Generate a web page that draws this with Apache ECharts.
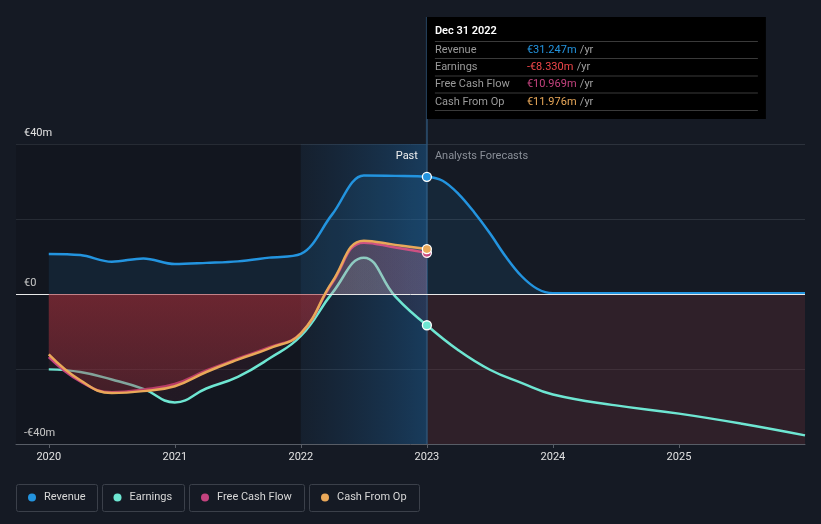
<!DOCTYPE html>
<html>
<head>
<meta charset="utf-8">
<script src="https://cdn.jsdelivr.net/npm/echarts@6/dist/echarts.min.js"></script>
<style>
html,body{margin:0;padding:0;background:#151a24;}
#c{width:821px;height:524px;}
</style>
</head>
<body>
<div id="c"></div>
<script>
// ---- data (values in € millions) ----
const pastX = [2020, 2020.25, 2020.5, 2020.75, 2021, 2021.25, 2021.5, 2021.75, 2022, 2022.25, 2022.5, 2022.75, 2023];
const revenuePast = [10.7, 10.4, 8.6, 9.5, 8.0, 8.3, 8.7, 9.7, 10.7, 21.3, 31.6, 31.5, 31.247];
const earningsPast = [-20.1, -20.8, -22.8, -25.3, -28.9, -25.2, -22.1, -17.2, -11.2, 0.3, 9.7, -0.7, -8.33];
const fcfPast = [-16.8, -23.3, -26.2, -25.5, -24.0, -20.4, -17.2, -14.2, -10.5, 3.0, 13.7, 12.4, 10.969];
const cfoPast = [-16.1, -23.0, -26.4, -25.9, -24.6, -20.8, -17.5, -14.5, -10.5, 3.3, 14.2, 13.1, 11.976];
const revForecastX = [2023, 2023.125, 2023.25, 2023.375, 2023.5, 2023.625, 2023.75, 2023.875, 2024, 2024.5, 2025, 2025.5, 2026];
const revenueForecast = [31.247, 30.2, 26.7, 21.8, 16.2, 10.0, 4.8, 1.4, 0.2, 0.2, 0.2, 0.2, 0.2];
const earnForecastX = [2023, 2023.25, 2023.5, 2023.75, 2024, 2024.5, 2025, 2025.5, 2026];
const earningsForecast = [-8.33, -15.0, -20.2, -23.7, -26.8, -29.7, -31.9, -34.6, -37.7];
const yearTicks = [2020, 2021, 2022, 2023, 2024, 2025];
const seriesNames = ['Revenue', 'Earnings', 'Free Cash Flow', 'Cash From Op'];
const tooltipDate = 'Dec 31 2022';
const splitYear = 2023;
const highlightStart = 2022;

const COLORS = { rev: '#2394df', earn: '#6ee6d2', fcf: '#c4437f', cfo: '#e9a859', earnVal: '#f0474a' };
const FONT = 'Roboto, "Noto Sans", sans-serif';

const chart = echarts.init(document.getElementById('c'));

function pairs(xs, ys) { return xs.map((x, i) => [x, ys[i]]); }
function withDot(arr, color) {
  return arr.map((p, i) => i === arr.length - 1
    ? { value: p, symbol: 'circle', symbolSize: 9, itemStyle: { color: color, borderColor: '#fff', borderWidth: 1.3 } }
    : { value: p, symbol: 'none' });
}
function signGrad(pos, negTop, negBottom) {
  return { type: 'linear', x: 0, y: 144, x2: 0, y2: 444, global: true,
    colorStops: [{ offset: 0, color: pos }, { offset: 0.5, color: pos },
                 { offset: 0.5, color: negTop }, { offset: 1, color: negBottom }] };
}

const revenueAll = pairs(pastX, revenuePast).concat(pairs(revForecastX.slice(1), revenueForecast.slice(1)));
const revData = revenueAll.map((p) => p[0] === splitYear
  ? { value: p, symbol: 'circle', symbolSize: 9, itemStyle: { color: COLORS.rev, borderColor: '#fff', borderWidth: 1.3 } }
  : { value: p, symbol: 'none' });

const lineCommon = { type: 'line', smooth: 0.45, showSymbol: true, symbol: 'none', lineStyle: { width: 2.5 } };

const option = {
  backgroundColor: '#151a24',
  animation: false,
  grid: { left: 16, right: 16, top: 144, bottom: 80 },
  xAxis: {
    type: 'value', min: 2019.74, max: 2026,
    axisLine: { onZero: false, lineStyle: { color: '#585d66' } },
    axisTick: { show: true, length: 4, customValues: yearTicks, lineStyle: { color: '#585d66' } },
    axisLabel: { customValues: yearTicks, color: '#e2e2e2', fontSize: 11, fontFamily: FONT, margin: 8, formatter: (v) => String(v) },
    splitLine: { show: false }
  },
  yAxis: {
    type: 'value', min: -40, max: 40, interval: 20,
    axisLine: { show: false }, axisTick: { show: false },
    axisLabel: { inside: true, verticalAlign: 'bottom', margin: 8, padding: [0, 0, 5, 0], color: '#e2e2e2', fontSize: 11, fontFamily: FONT,
      formatter: (v) => v === 0 ? '€0' : (Math.abs(v) === 40 ? (v < 0 ? '-' : '') + '€' + Math.abs(v) + 'm' : '') },
    splitLine: { lineStyle: { color: '#2c323c', width: 1 } }
  },
  legend: seriesNames.map((n, i) => ({
    data: [n], left: [28, 113.5, 201, 321][i], top: 492, padding: 0,
    icon: 'circle', itemWidth: 8, itemHeight: 8,
    textStyle: { color: '#d8d8d8', fontSize: 11, fontFamily: FONT, padding: [0, 0, 0, 3] },
    selectedMode: false
  })),
  series: [
    { // background bands
      type: 'line', name: 'bands', data: [], z: 1, silent: true,
      markArea: { silent: true, data: [
        [{ xAxis: 2019.74, yAxis: 40, itemStyle: { color: 'rgba(0,0,0,0.13)' } }, { xAxis: highlightStart, yAxis: -40 }],
        [{ xAxis: highlightStart, yAxis: 40, itemStyle: { color: { type: 'linear', x: 0, y: 0, x2: 1, y2: 0,
            colorStops: [{ offset: 0, color: 'rgba(25,75,120,0.12)' }, { offset: 1, color: 'rgba(28,100,160,0.45)' }] } } },
         { xAxis: splitYear, yAxis: -40 }],
        [{ xAxis: splitYear, yAxis: 0, itemStyle: { color: 'rgba(110,45,52,0.30)' } }, { xAxis: 2026, yAxis: -40 }]
      ] },
      markLine: { silent: true, symbol: 'none', label: { show: false },
        lineStyle: { color: '#e9e9e9', width: 1, type: 'solid' }, data: [{ yAxis: 0 }] }
    },
    Object.assign({}, lineCommon, { name: 'Revenue', z: 3, data: revData, smooth: 0.35,
      itemStyle: { color: COLORS.rev }, lineStyle: { width: 2.5, color: COLORS.rev },
      areaStyle: { color: 'rgba(35,148,223,0.15)' } }),
    Object.assign({}, lineCommon, { name: 'Earnings', z: 4, data: withDot(pairs(pastX, earningsPast), COLORS.earn),
      itemStyle: { color: COLORS.earn }, lineStyle: { width: 2.5, color: COLORS.earn },
      areaStyle: { color: signGrad('rgba(120,226,208,0.18)', 'rgba(110,40,60,0.25)', 'rgba(110,40,60,0.25)') } }),
    Object.assign({}, lineCommon, { name: 'Earnings', z: 4, data: pairs(earnForecastX, earningsForecast),
      itemStyle: { color: COLORS.earn }, lineStyle: { width: 2.5, color: COLORS.earn } }),
    Object.assign({}, lineCommon, { name: 'Free Cash Flow', z: 5, data: withDot(pairs(pastX, fcfPast), COLORS.fcf),
      itemStyle: { color: COLORS.fcf }, lineStyle: { width: 2.5, color: COLORS.fcf },
      areaStyle: { color: signGrad('rgba(200,70,130,0.10)', 'rgba(0,0,0,0)', 'rgba(0,0,0,0)') } }),
    Object.assign({}, lineCommon, { name: 'Cash From Op', z: 6, data: withDot(pairs(pastX, cfoPast), COLORS.cfo),
      itemStyle: { color: COLORS.cfo }, lineStyle: { width: 2.5, color: COLORS.cfo },
      areaStyle: { color: signGrad('rgba(250,135,145,0.28)', 'rgba(165,48,58,0.80)', 'rgba(165,48,58,0.30)') } })
  ]
};
chart.setOption(option);

// ---- tooltip-like panel and period labels positioned from the axis scale ----
const X0 = chart.convertToPixel({ xAxisIndex: 0 }, splitYear);
const gridTop = chart.convertToPixel({ yAxisIndex: 0 }, 40);
const gridBottom = chart.convertToPixel({ yAxisIndex: 0 }, -40);
const lastIdx = pastX.length - 1;
function fmt(v) { return (v < 0 ? '-' : '') + '€' + Math.abs(v).toFixed(3) + 'm'; }
const rows = [
  [seriesNames[0], revenuePast[lastIdx], COLORS.rev],
  [seriesNames[1], earningsPast[lastIdx], COLORS.earnVal],
  [seriesNames[2], fcfPast[lastIdx], COLORS.fcf],
  [seriesNames[3], cfoPast[lastIdx], COLORS.cfo]
];
const boxTop = 17, boxW = 339, boxH = 102;
const g = [];
g.push({ type: 'line', z: 1, shape: { x1: X0, y1: boxTop, x2: X0, y2: gridBottom }, style: { stroke: 'rgba(45,85,120,0.75)', lineWidth: 2 } });
g.push({ type: 'rect', z: 100, shape: { x: X0, y: boxTop, width: boxW, height: boxH }, style: { fill: '#000' } });
g.push({ type: 'text', z: 101, x: X0 + 8, y: boxTop + 14, style: { text: tooltipDate, fill: '#fff', font: '600 11px ' + FONT, verticalAlign: 'middle' } });
const sepY = [41.5, 58.5, 76, 93, 110.5];
sepY.forEach((y) => g.push({ type: 'line', z: 101, shape: { x1: X0 + 8, y1: y, x2: X0 + 331, y2: y }, style: { stroke: '#3a3a3a', lineWidth: 1 } }));
rows.forEach((r, i) => {
  const cy = (sepY[i] + sepY[i + 1]) / 2;
  g.push({ type: 'text', z: 101, x: X0 + 8, y: cy, style: { text: r[0], fill: '#9a9a9a', font: '11px ' + FONT, verticalAlign: 'middle' } });
  g.push({ type: 'text', z: 101, x: X0 + 100, y: cy, style: {
    text: '{v|' + fmt(r[1]) + '} {u|/yr}', verticalAlign: 'middle',
    rich: { v: { fill: r[2], font: '11px ' + FONT }, u: { fill: '#a0a0a0', font: '11px ' + FONT } } } });
});
g.push({ type: 'text', z: 50, x: X0 - 9, y: gridTop + 12, style: { text: 'Past', fill: '#f0f0f0', font: '11px ' + FONT, align: 'right', verticalAlign: 'middle' } });
g.push({ type: 'text', z: 50, x: X0 + 8, y: gridTop + 12, style: { text: 'Analysts Forecasts', fill: '#8a8f98', font: '11px ' + FONT, align: 'left', verticalAlign: 'middle' } });
// legend boxes
const boxes = [[16.5, 81], [102.5, 82], [189.5, 115], [309.5, 110]];
boxes.forEach((b) => g.push({ type: 'rect', z: 0, shape: { x: b[0], y: 484.5, width: b[1], height: 27, r: 2 }, style: { fill: 'rgba(0,0,0,0)', stroke: '#3b404a', lineWidth: 1 } }));
chart.setOption({ graphic: g });
</script>
</body>
</html>
